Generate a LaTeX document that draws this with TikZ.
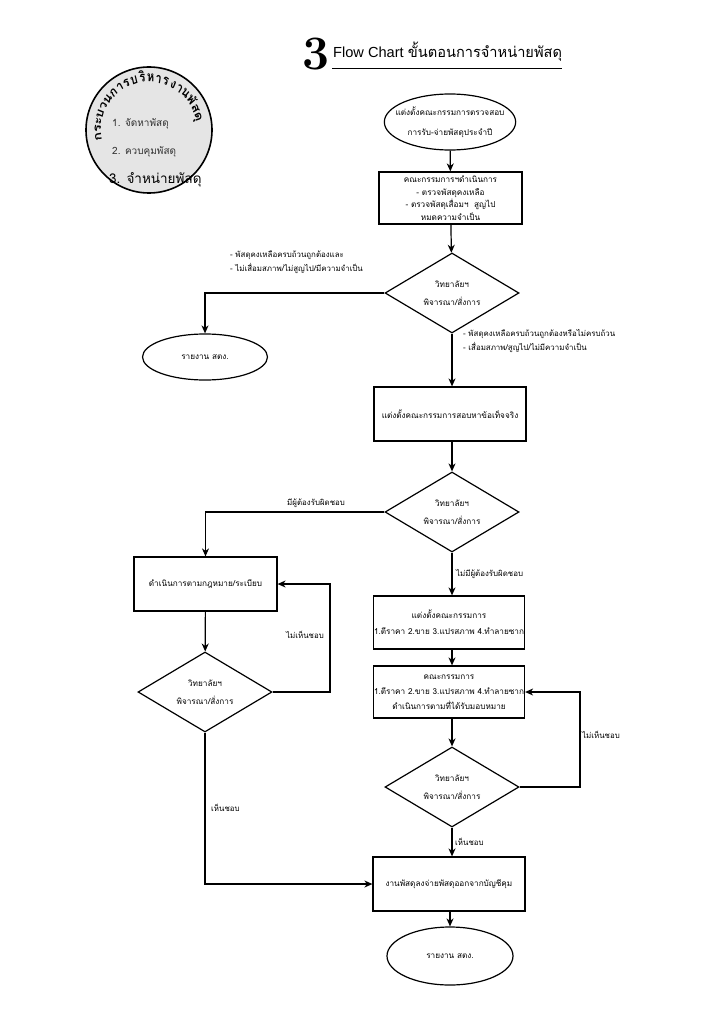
\documentclass[tikz,border=0pt]{standalone}
\usepackage{fontspec}
\newfontfamily\thai[Script=Thai]{Loma}
\newfontfamily\lsans{Liberation Sans}
\usetikzlibrary{arrows.meta,shapes.geometric}
\tikzset{
  conn/.style={line width=1.2pt},
  arr/.style={conn,-{Stealth[length=8pt,width=7pt,inset=2.5pt]}},
  stepbox/.style={draw,line width=1.2pt,minimum width=152pt,minimum height=54pt,inner sep=0,align=center,font=\thai\fontsize{8.2}{12.5}\selectfont},
  decide/.style={draw,diamond,line width=1.2pt,aspect=1.675,minimum width=134pt,minimum height=80pt,inner sep=0,align=center,font=\thai\fontsize{8.2}{17.5}\selectfont},
  term/.style={draw,ellipse,line width=1.2pt,inner sep=0,align=center,font=\thai\fontsize{8.2}{20}\selectfont},
  lbl/.style={inner sep=0,align=left,font=\thai\fontsize{7.9}{14}\selectfont},
  arcch/.style={inner sep=0,anchor=base,xscale=0.8,font=\thai\bfseries\fontsize{14}{14}\selectfont},
}
\begin{document}
\begin{tikzpicture}[x=1pt,y=-1pt]
\useasboundingbox (0,0) rectangle (724,1024);
% title
\node[anchor=base west,inner sep=0,font=\fontsize{48}{48}\bfseries\selectfont] (num) at (302,70) {3};
\node[anchor=base west,inner sep=0,font=\fontsize{14.6}{14.6}\selectfont] (ttl) at (333,58) {{\lsans Flow Chart }{\thai ขั้นตอนการจำหน่ายพัสดุ}};
\coordinate (ul1) at (332,69);
\coordinate (ul2) at (562,69);
\draw[line width=1pt] (ul1) -- (ul2);
% circle
\node[circle,draw,line width=1.6pt,fill=black!10,minimum size=126pt,inner sep=0] (c) at (149,130) {};
\def\arcang{193}
\foreach \ch/\w in {ก/1,ร/0.9,ะ/0.7,บ/1,ว/0.9,น/1,ก/1,า/0.8,ร/0.9,บ/1,ริ/0.9,ห/1,า/0.8,ร/0.9,ง/0.9,า/0.8,น/1,พั/1,ส/1,ดุ/1}{
  \pgfmathsetmacro\arcmid{\arcang-\w*4.95}
  \path (c.center) ++(\arcmid:48pt) node[arcch,rotate=\arcmid-90] {\ch};
  \pgfmathsetmacro\arcnxt{\arcang-\w*9.9}
  \xdef\arcang{\arcnxt}
}
\node[anchor=base west,inner sep=0,text=black!80,font=\thai\fontsize{10}{10}\selectfont] (l1) at (112,127) {1. จัดหาพัสดุ};
\node[anchor=base west,inner sep=0,text=black!80,font=\thai\fontsize{10}{10}\selectfont] (l2) at (112,155) {2. ควบคุมพัสดุ};
\node[anchor=base west,inner sep=0,font=\thai\fontsize{13.5}{13.5}\selectfont] (l3) at (109,184) {3. จำหน่ายพัสดุ};
% main flow
\node[term,inner xsep=-8pt,minimum width=130pt,minimum height=56pt] (e1) at (450,122) {แต่งตั้งคณะกรรมการตรวจสอบ\\การรับ-จ่ายพัสดุประจำปี};
\node[stepbox,minimum width=143pt,minimum height=52pt] (b1) at (450.5,198) {คณะกรรมการฯดำเนินการ\\- ตรวจพัสดุคงเหลือ\\- ตรวจพัสดุเสื่อมฯ \ สูญไป\\หมดความจำเป็น};
\node[decide] (d1) at (452,293) {วิทยาลัยฯ\\พิจารณา/สั่งการ};
\node[term,minimum width=125pt,minimum height=46pt] (e2) at (205,357) {รายงาน สตง.};
\node[stepbox] (b2) at (450,414) {แต่งตั้งคณะกรรมการสอบหาข้อเท็จจริง};
\node[decide] (d2) at (452,512) {วิทยาลัยฯ\\พิจารณา/สั่งการ};
\node[stepbox,minimum width=143pt] (b3) at (205.5,584) {ดำเนินการตามกฎหมาย/ระเบียบ};
\node[decide] (d3) at (205,692) {วิทยาลัยฯ\\พิจารณา/สั่งการ};
\node[stepbox,minimum width=151pt,minimum height=53pt] (b4) at (449,622.5) {แต่งตั้งคณะกรรมการ\\[3.5pt]1.ตีราคา 2.ขาย 3.แปรสภาพ 4.ทำลายซาก};
\node[stepbox,minimum width=151pt,minimum height=52pt] (b5) at (449,692) {คณะกรรมการ\\[2.5pt]1.ตีราคา 2.ขาย 3.แปรสภาพ 4.ทำลายซาก\\[2.5pt]ดำเนินการตามที่ได้รับมอบหมาย};
\node[decide] (d4) at (452,787) {วิทยาลัยฯ\\พิจารณา/สั่งการ};
\node[stepbox] (b6) at (449,884) {งานพัสดุลงจ่ายพัสดุออกจากบัญชีคุม};
\node[term,minimum width=126pt,minimum height=58pt] (e3) at (450,956) {รายงาน สตง.};
% connectors
\draw[arr] (e1) -- (b1);
\draw[arr] (b1) -- (d1);
\draw[arr] (d1.west) -| (e2.north);
\draw[arr] (d1.south) -- (d1.south |- b2.north);
\draw[arr] (b2.south -| d2.north) -- (d2.north);
\draw[arr] (d2.west) -| (b3.north);
\draw[arr] (b3) -- (d3);
\coordinate (r3) at (330,0);
\draw[arr] (d3.east) -- (d3.east -| r3) |- (b3.east);
\draw[arr] (d3.south) |- (b6.west);
\draw[arr] (d2.south) -- (d2.south |- b4.north);
\draw[arr] (b4.south -| d2.south) -- (d2.south |- b5.north);
\draw[arr] (b5.south -| d4.north) -- (d4.north);
\coordinate (r4) at (580,0);
\draw[arr] (d4.east) -- (d4.east -| r4) |- (b5.east);
\draw[arr] (d4.south) -- (d4.south |- b6.north);
\draw[arr] (b6.south -| e3.north) -- (e3.north);
% labels
\node[lbl,anchor=base west] (t1) at (230,271) {- พัสดุคงเหลือครบถ้วนถูกต้องและ\\- ไม่เสื่อมสภาพ/ไม่สูญไป/มีความจำเป็น};
\node[lbl,anchor=base west] (t2) at (463,350) {- พัสดุคงเหลือครบถ้วนถูกต้องหรือไม่ครบถ้วน\\- เสื่อมสภาพ/สูญไป/ไม่มีความจำเป็น};
\node[lbl,anchor=base west] (t3) at (287,505) {มีผู้ต้องรับผิดชอบ};
\node[lbl,anchor=base west] (t4) at (286,638) {ไม่เห็นชอบ};
\node[lbl,anchor=base west] (t5) at (211,811) {เห็นชอบ};
\node[lbl,anchor=base west] (t6) at (456,576) {ไม่มีผู้ต้องรับผิดชอบ};
\node[lbl,anchor=base west] (t7) at (582,738) {ไม่เห็นชอบ};
\node[lbl,anchor=base west] (t8) at (455,845) {เห็นชอบ};
\end{tikzpicture}
\end{document}
